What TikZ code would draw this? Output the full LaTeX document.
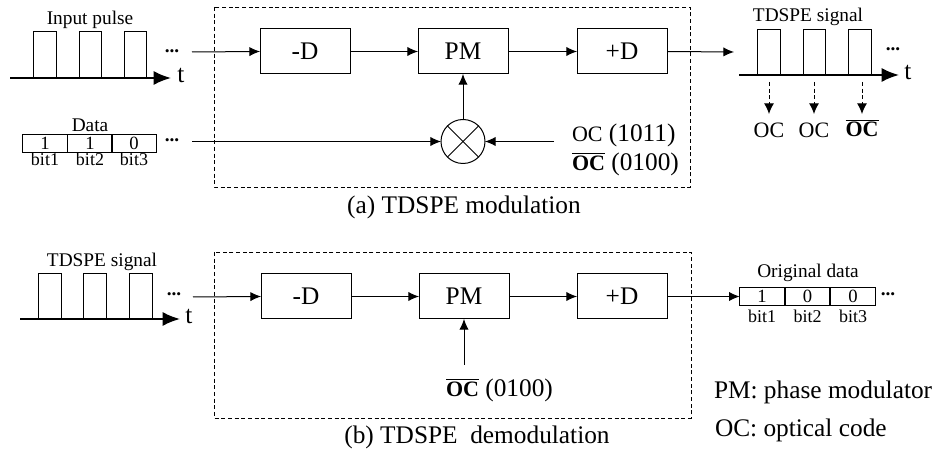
\documentclass[tikz,border=0pt]{standalone}
\usepackage{fontspec}
\setmainfont{Liberation Serif}
\usetikzlibrary{arrows.meta}
\newcommand\fbig{\fontsize{19}{22}\selectfont}
\newcommand\fmid{\fontsize{14.5}{17}\selectfont}
\newcommand\fdig{\fontsize{14}{16}\selectfont}
\newcommand\fsml{\fontsize{13.5}{16}\selectfont}
\newcommand\fococ{\fontsize{16.5}{19}\selectfont}
\newcommand\ocbar{$\overline{\mbox{\textbf{OC}}}$}
\begin{document}
\begin{tikzpicture}[x=0.75pt,y=-0.75pt,
  every node/.style={inner sep=0pt, outer sep=0pt},
  thin line/.style={line width=0.75pt},
  arr/.style={line width=0.75pt, -{Latex[length=8pt,width=7pt]}},
  dasharr/.style={line width=0.75pt, dash pattern=on 3pt off 2pt, -{Latex[length=8pt,width=7.5pt]}},
  axisline/.style={line width=1.4pt, -{Latex[length=13pt,width=10.5pt]}},
  blk/.style={draw, line width=0.75pt, minimum width=67.5pt, minimum height=33.75pt, font=\fbig},
  cell/.style={draw, line width=0.6pt, minimum width=33.5pt, minimum height=13.5pt, font=\fdig},
  dashframe/.style={line width=0.7pt, dash pattern=on 3pt off 2pt},
  lbl/.style={font=\fmid, anchor=base},
  dots/.style={font=\fmid\bfseries},
  bitlbl/.style={font=\fsml, anchor=base},
]
\useasboundingbox (0,0) rectangle (940,459);

% ================= (a) modulation =================
% input pulse
\node[lbl] (lin) at (90,25) {Input pulse};
\draw[thin line] (33,78) -- (33,32) -- (56,32) -- (56,78);
\draw[thin line] (79,78) -- (79,32) -- (101,32) -- (101,78);
\draw[thin line] (124,78) -- (124,32) -- (146,32) -- (146,78);
\coordinate (ax1s) at (10,78);
\coordinate (ax1e) at (171,78);
\draw[axisline] (ax1s) -- (ax1e);
\node[font=\fbig] (t1) at (181,75) {t};
\node[dots] (dots1) at (172,51) {...};

% data
\node[lbl] (ldata) at (90,132) {Data};
\node[cell] (c1) at (45,143.5) {1};
\node[cell] (c2) at (90,143.5) {1};
\node[cell] (c3) at (134,143.5) {0};
\node[bitlbl] (b1) at (45,166) {bit1};
\node[bitlbl] (b2) at (90,166) {bit2};
\node[bitlbl] (b3) at (134,166) {bit3};
\node[dots] (dots2) at (172,140) {...};

% frame
\draw[dashframe] (214,7) rectangle (690,187);
\node[blk] (md) at (305,51.5) {-D};
\node[blk] (pm) at (463,51.5) {PM};
\node[blk] (pd) at (622,51.5) {+D};
\node[draw, circle, thin line, minimum size=33pt] (mix) at (463,141.5) {};
\draw[thin line] (mix.north west) -- (mix.south east);
\draw[thin line] (mix.north east) -- (mix.south west);

\coordinate (in1) at (192,52);
\coordinate (din) at (192,141.5);
\coordinate (ocin) at (554,141.5);
\coordinate (out1) at (734,52);
\draw[arr] (in1) -- (md.west);
\draw[arr] (md.east) -- (pm.west);
\draw[arr] (pm.east) -- (pd.west);
\draw[arr] (pd.east) -- (out1);
\draw[arr] (mix.north) -- (pm.south);
\draw[arr] (din) -- (mix.west);
\draw[arr] (ocin) -- (mix.east);

\node[anchor=west, font=\fbig] (oca) at (572,135) {{\fococ OC} (1011)};
\node[anchor=west, font=\fbig] (ocb) at (572,164) {{\fococ\ocbar} (0100)};

\node[font=\fbig, anchor=base] (capa) at (464,214) {(a) TDSPE modulation};

% TDSPE signal output
\node[lbl] (lsig) at (808,22) {TDSPE signal};
\draw[thin line] (757,75) -- (757,30) -- (780,30) -- (780,75);
\draw[thin line] (803,75) -- (803,30) -- (825,30) -- (825,75);
\draw[thin line] (848,75) -- (848,30) -- (871,30) -- (871,75);
\coordinate (ax2s) at (739,75);
\coordinate (ax2e) at (899,75);
\draw[axisline] (ax2s) -- (ax2e);
\node[font=\fbig] (t2) at (908,72) {t};
\node[dots] (dots3) at (893,49) {...};

\node[font=\fococ] (o1) at (769,130) {OC};
\node[font=\fococ] (o2) at (814,130) {OC};
\node[font=\fococ] (o3) at (862,128) {\ocbar};
\coordinate (s1) at (769,82);
\coordinate (s2) at (814,82);
\coordinate (s3) at (862,82);
\draw[dasharr] (s1) -- (769,114);
\draw[dasharr] (s2) -- (814,114);
\draw[dasharr] (s3) -- (862,114);

% ================= (b) demodulation =================
\node[lbl] (lsigb) at (102,267) {TDSPE signal};
\draw[thin line] (38,319) -- (38,274) -- (61,274) -- (61,319);
\draw[thin line] (83,319) -- (83,274) -- (106,274) -- (106,319);
\draw[thin line] (129,319) -- (129,274) -- (152,274) -- (152,319);
\coordinate (ax3s) at (20,319);
\coordinate (ax3e) at (180,319);
\draw[axisline] (ax3s) -- (ax3e);
\node[font=\fbig] (t3) at (189,316) {t};
\node[dots] (dots4) at (174,294) {...};

\draw[dashframe] (214,252) rectangle (691,418);
\node[blk] (mdb) at (306,296.5) {-D};
\node[blk] (pmb) at (464,296.5) {PM};
\node[blk] (pdb) at (622,296.5) {+D};

\coordinate (in2) at (193,297);
\coordinate (ocbin) at (464,365);
\draw[arr] (in2) -- (mdb.west);
\draw[arr] (mdb.east) -- (pmb.west);
\draw[arr] (pmb.east) -- (pdb.west);
\draw[arr] (ocbin) -- (pmb.south);
\node[anchor=west, font=\fbig] (ocbb) at (446,390) {{\fococ\ocbar} (0100)};

\node[font=\fbig, anchor=base] (capb) at (477,444) {(b) TDSPE\ \ demodulation};

% original data
\node[lbl] (lorig) at (808,278) {Original data};
\node[cell] (d1) at (762,296.5) {1};
\node[cell] (d2) at (807.5,296.5) {0};
\node[cell] (d3) at (853,296.5) {0};
\node[bitlbl] (e1) at (762,323) {bit1};
\node[bitlbl] (e2) at (807.5,323) {bit2};
\node[bitlbl] (e3) at (853,323) {bit3};
\node[dots] (dots5) at (888,294) {...};
\draw[arr] (pdb.east) -- (d1.west);

% legend
\node[font=\fbig, anchor=base west] (leg1) at (714,399) {PM: phase modulator};
\node[font=\fbig, anchor=base west] (leg2) at (715,437) {OC: optical code};
\end{tikzpicture}
\end{document}
